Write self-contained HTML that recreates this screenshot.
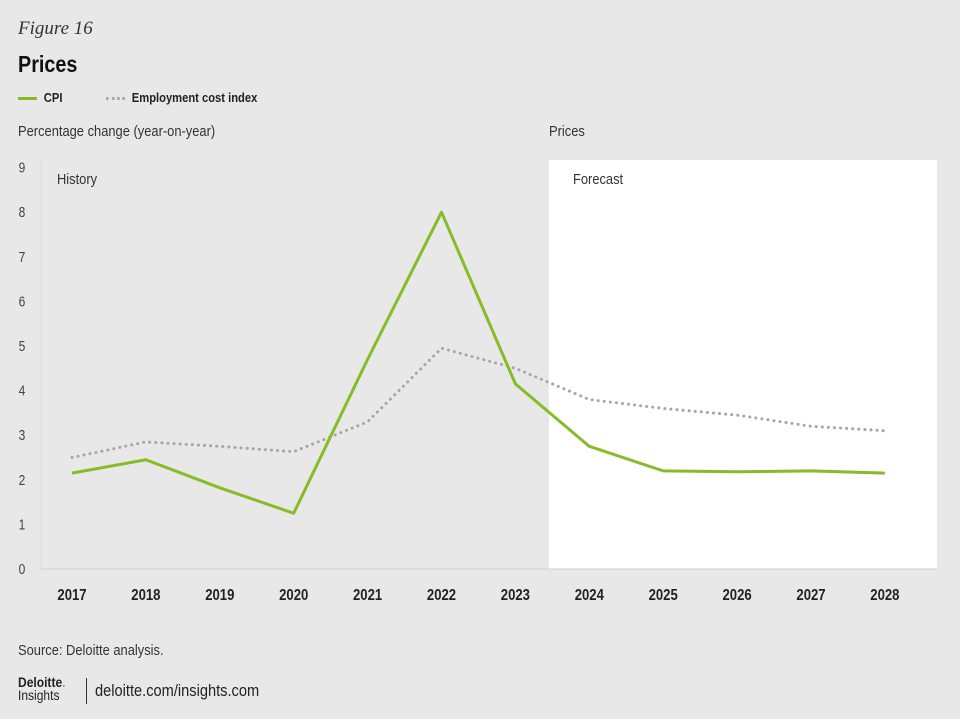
<!DOCTYPE html>
<html><head><meta charset="utf-8"><style>
body{margin:0;width:960px;height:719px;background:#e8e8e8;font-family:"Liberation Sans",sans-serif;color:#222;position:relative;overflow:hidden}
.a{position:absolute;white-space:nowrap}
.c{transform:scaleX(0.86);transform-origin:0 0}
</style></head><body>
<div class="a" style="left:18px;top:18px;font-family:'Liberation Serif',serif;font-style:italic;font-size:19px;color:#333">Figure 16</div>
<div class="a c" style="left:18px;top:51px;font-size:23px;font-weight:bold;color:#111">Prices</div>
<div class="a c" style="left:18px;top:90px;font-size:13px;font-weight:bold"><span style="display:inline-block;width:22px;height:3px;background:#86bc25;vertical-align:middle;margin-right:8px"></span>CPI</div>
<div class="a c" style="left:106px;top:90px;font-size:13px;font-weight:bold"><span style="display:inline-block;width:22px;border-top:3px dotted #a6a6a6;vertical-align:middle;margin-right:8px"></span>Employment cost index</div>
<div class="a c" style="left:18px;top:123px;font-size:15px;color:#333">Percentage change (year-on-year)</div>
<div class="a c" style="left:549px;top:123px;font-size:15px;color:#333">Prices</div>
<svg class="a" style="left:0;top:0" width="960" height="719">
<g id="g"></g>
</svg>
<div class="a c" style="left:18px;top:642px;font-size:15px;color:#333">Source: Deloitte analysis.</div>
<div class="a c" style="left:18px;top:676px;font-size:14px;font-weight:bold;line-height:13px">Deloitte<span style="color:#86bc25">.</span><br><span style="font-weight:normal">Insights</span></div>
<div class="a" style="left:86px;top:678px;width:1px;height:26px;background:#333"></div>
<div class="a c" style="left:95px;top:681px;font-size:17px;color:#222">deloitte.com/insights.com</div>
<script>
const years=["2017","2018","2019","2020","2021","2022","2023","2024","2025","2026","2027","2028"];
const cpi=[2.15,2.45,1.82,1.25,4.7,8.0,4.15,2.75,2.2,2.18,2.2,2.15];
const eci=[2.5,2.85,2.75,2.63,3.3,4.95,4.5,3.8,3.6,3.45,3.2,3.1];
const yTicks=[0,1,2,3,4,5,6,7,8,9];
const NS="http://www.w3.org/2000/svg";
const g=document.getElementById('g');
const x=i=>72+i*73.9, y=v=>569-v*44.6;
function mk(t,a){const e=document.createElementNS(NS,t);for(const k in a)e.setAttribute(k,a[k]);g.appendChild(e);return e;}
let r=mk('rect',{x:549,y:160,width:388,height:409,fill:'#fff'});


let t=mk('text',{x:57,y:184,'font-size':15,fill:'#333',transform:'translate(57,0) scale(0.86,1) translate(-57,0)'});t.textContent='History';


t=mk('text',{x:573,y:184,'font-size':15,fill:'#333',transform:'translate(573,0) scale(0.86,1) translate(-573,0)'});t.textContent='Forecast';


let ax=mk('line',{x1:41,x2:937,y1:569,y2:569,stroke:'#cfcfcf','stroke-width':1});


let ay=mk('line',{x1:41,x2:41,y1:160,y2:569,stroke:'#dcdcdc','stroke-width':1});


yTicks.forEach(v=>{const e=mk('text',{x:22,y:y(v)+5,'font-size':15,fill:'#444','text-anchor':'middle',transform:'translate(22,0) scale(0.8,1) translate(-22,0)'});e.textContent=v;

});
years.forEach((yr,i)=>{const e=mk('text',{x:x(i),y:600,'font-size':16,'font-weight':'bold',fill:'#222','text-anchor':'middle',transform:'translate('+x(i)+',0) scale(0.82,1) translate('+(-x(i))+',0)'});e.textContent=yr;

});
let p=mk('polyline',{points:eci.map((v,i)=>x(i)+','+y(v)).join(' '),fill:'none',stroke:'#a6a6a6','stroke-width':3,'stroke-dasharray':'0.1 6','stroke-linecap':'round'});


p=mk('polyline',{points:cpi.map((v,i)=>x(i)+','+y(v)).join(' '),fill:'none',stroke:'#86bc25','stroke-width':3,'stroke-linejoin':'round'});


</script>
</body></html>
